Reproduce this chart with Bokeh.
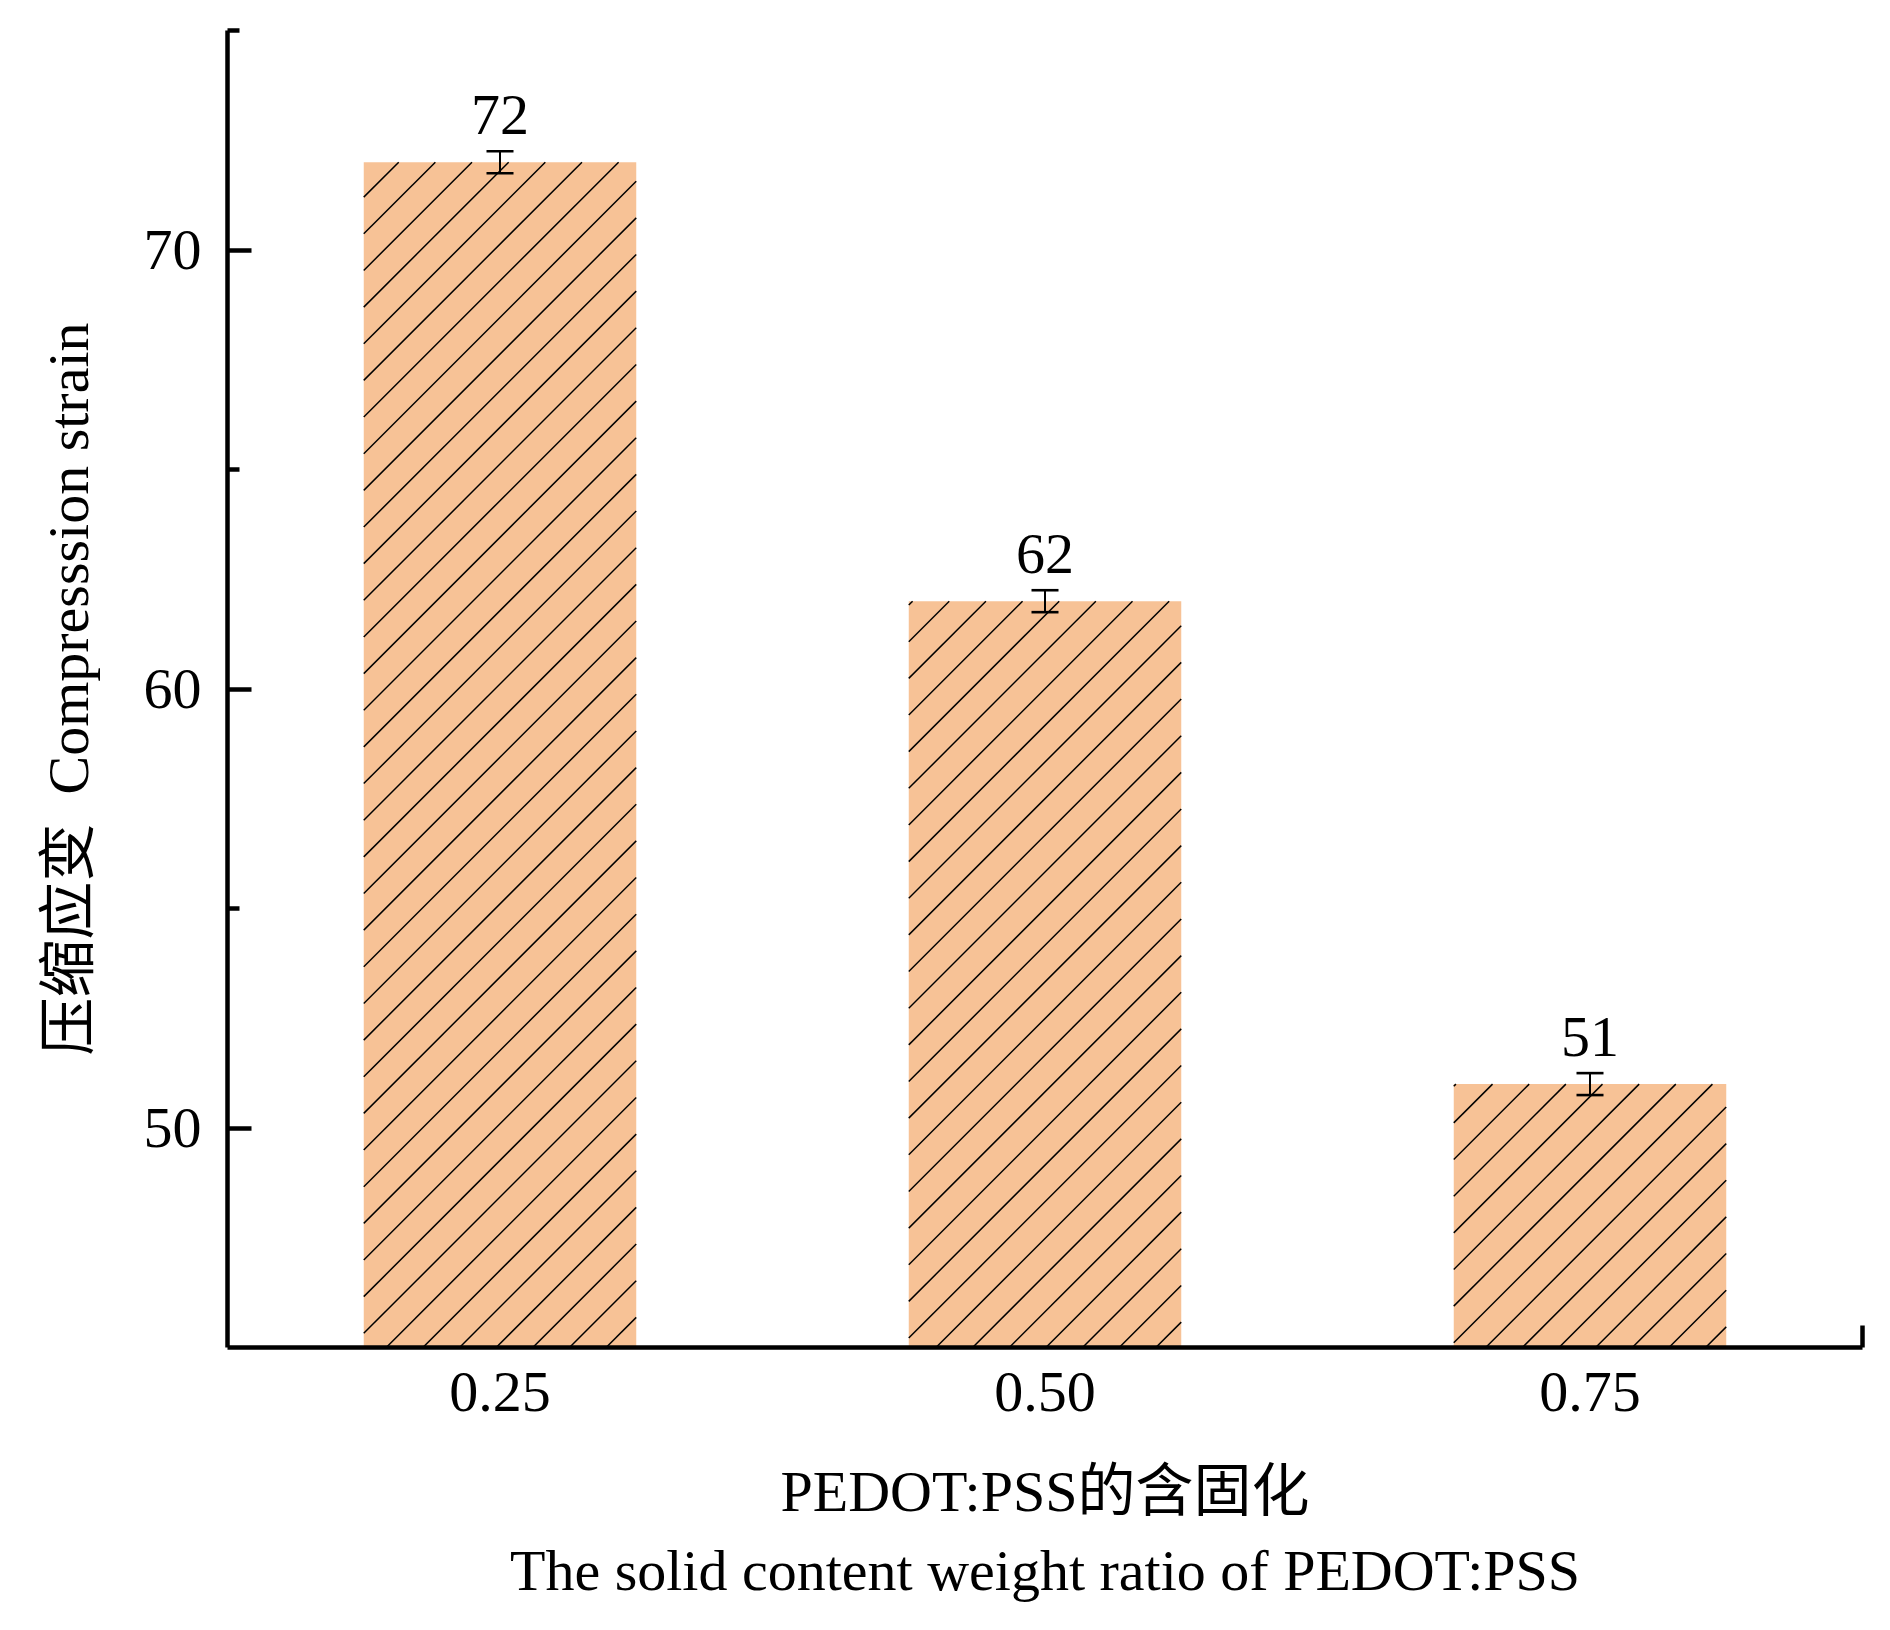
from bokeh.plotting import figure
from bokeh.models import (Range1d, FixedTicker, ColumnDataSource, Whisker, TeeHead,
                          LabelSet)
from bokeh.core.properties import value
from bokeh.embed import file_html
from bokeh.resources import INLINE

# ---- data ----
categories = ["0.25", "0.50", "0.75"]
strain = [72, 62, 51]
errors = [0.25, 0.25, 0.25]
value_labels = ["72", "62", "51"]
y_major_ticks = [50, 60, 70]
y_minor_ticks = [55, 65, 75]
y_label = "压缩应变\u00a0\u00a0Compresssion strain"
x_label_cn = "PEDOT:PSS的含固化"
x_label_en = "The solid content weight ratio of PEDOT:PSS"

# ---- layout / style ----
FONT = "'Liberation Serif', 'Noto Sans CJK SC', serif"
FS = "58px"
FRAME_W, FRAME_H = 1635, 1317
X_START, X_END = 0.5, 3.5
Y_START, Y_END = 45, 75
BAR_W = 0.5
HATCH_SPACING = 36.65   # px, horizontal distance between hatch lines
HATCH_PHASE = 12.1      # px from frame left, at the baseline

positions = list(range(1, len(categories) + 1))
src = ColumnDataSource(dict(
    x=positions,
    top=strain,
    upper=[v + e for v, e in zip(strain, errors)],
    lower=[v - e for v, e in zip(strain, errors)],
    label=value_labels,
))

# 45-degree "/" hatch lines, clipped to each bar (computed in screen px, mapped to data)
px_x = FRAME_W / (X_END - X_START)
px_y = FRAME_H / (Y_END - Y_START)
hx0, hy0, hx1, hy1 = [], [], [], []
for xc, top in zip(positions, strain):
    xl = (xc - BAR_W / 2 - X_START) * px_x
    xr = (xc + BAR_W / 2 - X_START) * px_x
    H = (top - Y_START) * px_y
    k = int((xl - H - HATCH_PHASE) // HATCH_SPACING) - 1
    while True:
        a = HATCH_PHASE + k * HATCH_SPACING
        if a >= xr:
            break
        t0 = max(0.0, xl - a)
        t1 = min(H, xr - a)
        if t1 > t0:
            hx0.append(X_START + (a + t0) / px_x)
            hy0.append(Y_START + t0 / px_y)
            hx1.append(X_START + (a + t1) / px_x)
            hy1.append(Y_START + t1 / px_y)
        k += 1

p = figure(output_backend="svg", toolbar_location=None,
           frame_width=FRAME_W, frame_height=FRAME_H,
           min_border_left=227, min_border_top=30, min_border_right=20,
           min_border_bottom=270,
           x_range=Range1d(X_START, X_END), y_range=Range1d(Y_START, Y_END))
p.outline_line_color = None
p.xgrid.visible = False
p.ygrid.visible = False
p.background_fill_color = "white"

p.vbar(x="x", top="top", bottom=Y_START, width=BAR_W, source=src,
       fill_color="#F7C296", line_color=None)
p.segment(x0=hx0, y0=hy0, x1=hx1, y1=hy1, line_color="black", line_width=1.5)

whisk = Whisker(base="x", upper="upper", lower="lower", source=src,
                level="overlay",
                line_color="black", line_width=2,
                upper_head=TeeHead(size=27, line_width=2.6, line_color="black"),
                lower_head=TeeHead(size=27, line_width=2.6, line_color="black"))
p.add_layout(whisk)

labels = LabelSet(x="x", y="upper", text="label", source=src,
                  text_align="center", text_baseline="alphabetic", y_offset=17,
                  text_font=value(FONT), text_font_size=FS, text_color="black")
p.add_layout(labels)

# y axis
ya = p.yaxis[0]
ya.ticker = FixedTicker(ticks=y_major_ticks, minor_ticks=y_minor_ticks)
ya.axis_line_width = 4.5
ya.major_tick_line_width = 4.5
ya.minor_tick_line_width = 4.5
ya.major_tick_in = 24
ya.major_tick_out = 0
ya.minor_tick_in = 12
ya.minor_tick_out = 0
ya.major_label_standoff = 26
ya.major_label_text_font = FONT
ya.major_label_text_font_size = FS
ya.major_label_text_color = "black"
ya.axis_label = y_label
ya.axis_label_text_font = FONT
ya.axis_label_text_font_size = FS
ya.axis_label_text_font_style = "normal"
ya.axis_label_text_color = "black"
ya.axis_label_standoff = 40

# x axis
xa = p.xaxis[0]
xa.ticker = FixedTicker(ticks=positions, minor_ticks=[X_END])
xa.major_label_overrides = {pos: c for pos, c in zip(positions, categories)}
xa.axis_line_width = 4.5
xa.major_tick_in = 0
xa.major_tick_out = 0
xa.minor_tick_in = 22
xa.minor_tick_out = 0
xa.minor_tick_line_width = 4.5
xa.major_label_standoff = 25
xa.major_label_text_font = FONT
xa.major_label_text_font_size = FS
xa.major_label_text_color = "black"
xa.axis_label = x_label_cn + "\n" + x_label_en
xa.axis_label_text_font = FONT
xa.axis_label_text_font_size = FS
xa.axis_label_text_font_style = "normal"
xa.axis_label_text_color = "black"
xa.axis_label_text_line_height = 1.23
xa.axis_label_standoff = 45

open("out.html", "w").write(file_html(p, INLINE))
